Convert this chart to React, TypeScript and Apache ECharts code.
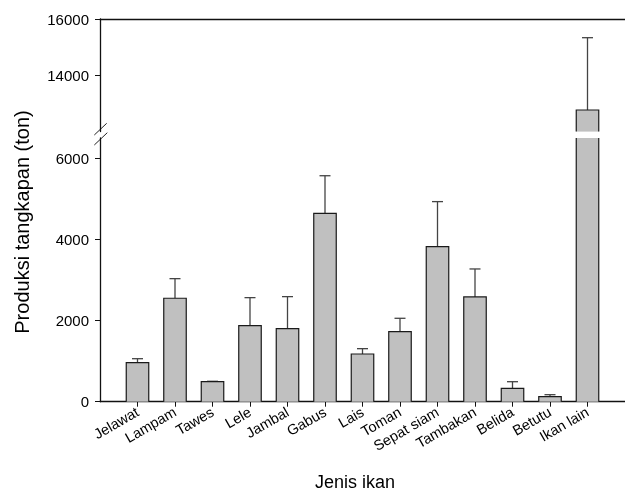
import React, { useEffect, useRef } from "react";
import * as echarts from "echarts";

const categories = ["Jelawat", "Lampam", "Tawes", "Lele", "Jambal", "Gabus", "Lais", "Toman", "Sepat siam", "Tambakan", "Belida", "Betutu", "Ikan lain"];
const means = [962, 2550, 493, 1874, 1800, 4640, 1176, 1726, 3823, 2582, 330, 123, 12767];
const errors = [98, 483, 10, 691, 790, 930, 131, 330, 1109, 690, 163, 50, 2569];
const lowerTicks = [0, 2000, 4000, 6000];
const upperTicks = [14000, 16000];
const lowerRange = [0, 6500];
const upperRange = [12000, 16000];
const BIG = 12; // index of the broken bar

const FONT = "Liberation Sans, Arial, Helvetica, sans-serif";
const BAR_W = 22.5;

export default function App() {
  const ref = useRef<HTMLDivElement>(null);
  useEffect(() => {
    if (!ref.current) return;
    const chart = echarts.init(ref.current, null, { renderer: "svg" });
    const cats = ["", ...categories, ""];
    const lowerBars = cats.map((c, i) => (i >= 1 && i <= categories.length ? means[i - 1] : "-"));
    const upperBars = cats.map((c, i) => (i - 1 === BIG ? means[BIG] : "-"));
    const lowerErr = means
      .map((m, i) => [i + 1, m, m + errors[i]])
      .filter((d, i) => i !== BIG);
    const upperErr = [[BIG + 1, means[BIG], means[BIG] + errors[BIG]]];
    const lowerOutline = means.map((m, i) => [i + 1, m]);
    const upperOutline = [[BIG + 1, means[BIG]]];

    const renderErr = (params: any, api: any) => {
      const x = api.value(0);
      const top = api.coord([x, api.value(2)]);
      const base = api.coord([x, api.value(1)]);
      const half = 5.5;
      const style = { stroke: "#444", lineWidth: 1.3 };
      return {
        type: "group",
        children: [
          { type: "line", shape: { x1: base[0], y1: base[1], x2: top[0], y2: top[1] }, style },
          { type: "line", shape: { x1: top[0] - half, y1: top[1], x2: top[0] + half, y2: top[1] }, style },
        ],
      };
    };

    const renderOutline = (params: any, api: any) => {
      const cs = params.coordSys;
      const x = api.value(0);
      const topPt = api.coord([x, api.value(1)]);
      const basePt = api.coord([x, 0]);
      const gTop = cs.y;
      const gBot = cs.y + cs.height;
      const yBase = Math.min(basePt[1], gBot);
      const clippedTop = topPt[1] < gTop;
      const yTop = Math.max(topPt[1], gTop);
      const x0 = topPt[0] - BAR_W / 2;
      const x1 = topPt[0] + BAR_W / 2;
      const style = { stroke: "#1a1a1a", lineWidth: 1.2, fill: null };
      if (clippedTop) {
        return {
          type: "group",
          children: [
            { type: "line", shape: { x1: x0, y1: yBase, x2: x0, y2: yTop }, style },
            { type: "line", shape: { x1: x1, y1: yBase, x2: x1, y2: yTop }, style },
          ],
        };
      }
      return {
        type: "polyline",
        shape: { points: [[x0, yBase], [x0, yTop], [x1, yTop], [x1, yBase]] },
        style,
      };
    };

    const tickShow = (i: number) => i >= 1 && i <= categories.length;
    const fmt = (v: number) => String(v);

    chart.setOption({
      animation: false,
      textStyle: { fontFamily: FONT },
      grid: [
        { left: 100, top: 19, width: 530.6, height: 112.6 },
        { left: 100, top: 138, width: 530.6, height: 263.7 },
      ],
      xAxis: [
        {
          type: "category",
          gridIndex: 0,
          data: cats,
          boundaryGap: false,
          position: "top",
          axisLine: { show: true, lineStyle: { color: "#111", width: 1.3 } },
          axisTick: { show: false },
          axisLabel: { show: false },
        },
        {
          type: "category",
          gridIndex: 1,
          data: cats,
          boundaryGap: false,
          axisLine: { show: true, lineStyle: { color: "#111", width: 1.3 } },
          axisTick: { show: true, length: 5, interval: (i: number) => tickShow(i), lineStyle: { color: "#111" } },
          axisLabel: {
            show: true,
            interval: (i: number) => tickShow(i),
            rotate: 30,
            margin: 9,
            fontSize: 14.5,
            color: "#000",
            fontFamily: FONT,
          },
        },
      ],
      yAxis: [
        {
          type: "value",
          gridIndex: 0,
          min: upperRange[0],
          max: upperRange[1],
          splitLine: { show: false },
          axisLine: { show: true, lineStyle: { color: "#111", width: 1.3 } },
          axisTick: { show: true, length: 5, customValues: upperTicks, lineStyle: { color: "#111" } },
          axisLabel: { customValues: upperTicks, formatter: fmt, fontSize: 15, color: "#000", margin: 11, fontFamily: FONT },
        },
        {
          type: "value",
          gridIndex: 1,
          min: lowerRange[0],
          max: lowerRange[1],
          splitLine: { show: false },
          axisLine: { show: true, lineStyle: { color: "#111", width: 1.3 } },
          axisTick: { show: true, length: 5, customValues: lowerTicks, lineStyle: { color: "#111" } },
          axisLabel: { customValues: lowerTicks, formatter: fmt, fontSize: 15, color: "#000", margin: 11, fontFamily: FONT },
        },
      ],
      series: [
        {
          type: "bar",
          xAxisIndex: 0,
          yAxisIndex: 0,
          data: upperBars,
          barWidth: BAR_W,
          clip: true,
          itemStyle: { color: "#c0c0c0", borderWidth: 0 },
        },
        {
          type: "bar",
          xAxisIndex: 1,
          yAxisIndex: 1,
          data: lowerBars,
          barWidth: BAR_W,
          clip: true,
          itemStyle: { color: "#c0c0c0", borderWidth: 0 },
        },
        { type: "custom", xAxisIndex: 0, yAxisIndex: 0, data: upperOutline, renderItem: renderOutline, z: 3 },
        { type: "custom", xAxisIndex: 1, yAxisIndex: 1, data: lowerOutline, renderItem: renderOutline, z: 3 },
        { type: "custom", xAxisIndex: 0, yAxisIndex: 0, data: upperErr, renderItem: renderErr, z: 2 },
        { type: "custom", xAxisIndex: 1, yAxisIndex: 1, data: lowerErr, renderItem: renderErr, z: 2 },
      ],
      graphic: [
        { type: "line", shape: { x1: 94.3, y1: 135, x2: 106.7, y2: 123.3 }, style: { stroke: "#222", lineWidth: 1 } },
        { type: "line", shape: { x1: 94.3, y1: 145, x2: 107.3, y2: 132.7 }, style: { stroke: "#222", lineWidth: 1 } },
        {
          type: "text",
          x: 22,
          y: 222,
          rotation: Math.PI / 2,
          style: {
            text: "Produksi tangkapan (ton)",
            fontSize: 20,
            fontFamily: FONT,
            fill: "#000",
            align: "center",
            verticalAlign: "middle",
          },
        },
        {
          type: "text",
          x: 355,
          y: 482,
          style: {
            text: "Jenis ikan",
            fontSize: 18,
            fontFamily: FONT,
            fill: "#000",
            align: "center",
            verticalAlign: "middle",
          },
        },
      ],
    });
    return () => chart.dispose();
  }, []);
  return <div ref={ref} style={{ position: "fixed", left: 0, top: 0, width: 625, height: 498 }} />;
}
